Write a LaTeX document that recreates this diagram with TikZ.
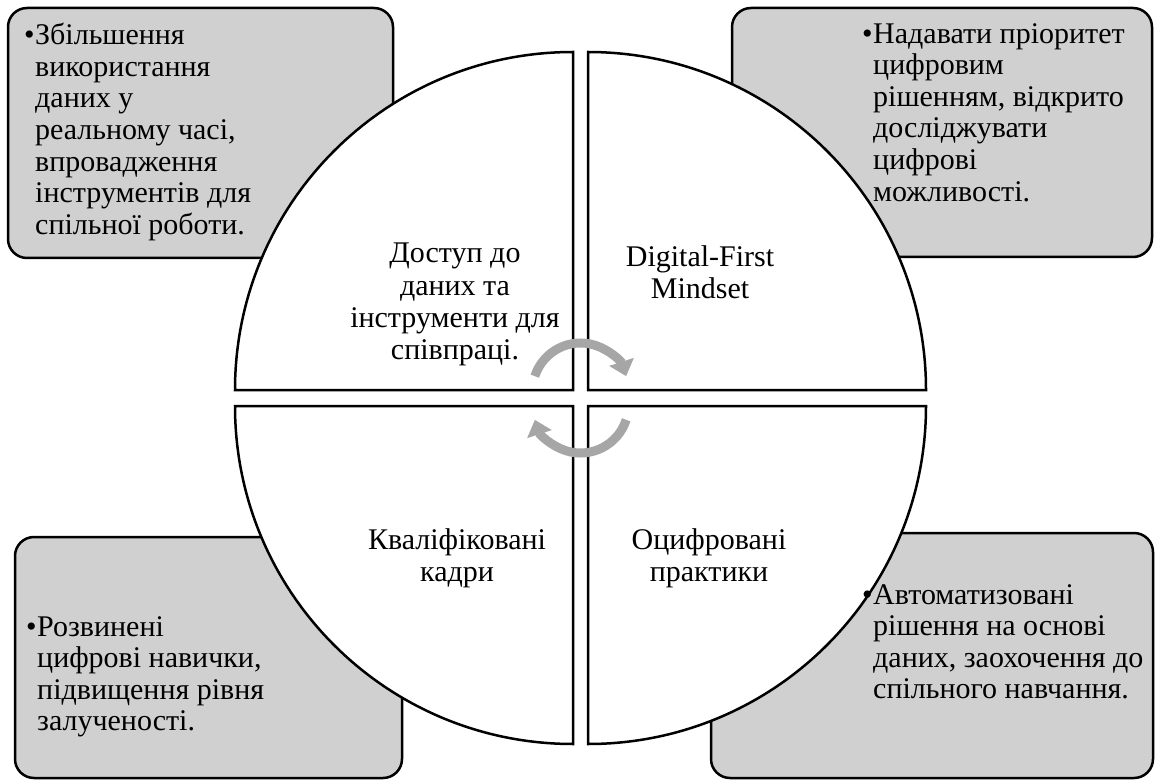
\documentclass[tikz,border=0pt]{standalone}
\usepackage{fontspec}
\setmainfont{Liberation Serif}
\usetikzlibrary{arrows.meta}
\definecolor{boxgray}{RGB}{208,208,208}
\definecolor{arrowgray}{RGB}{166,166,166}
\def\R{338}

\begin{document}
\begin{tikzpicture}[x=1pt, y=-1pt,
		cornerbox/.style={draw=black, line width=2.5pt, fill=boxgray, rounded corners=19pt},
		quarter/.style={draw=black, line width=2.5pt, fill=white},
		cycarrow/.style={draw=arrowgray, line width=9pt, -{Triangle[width=25pt,length=15pt]}},
		listtext/.style={anchor=north west, align=left, inner sep=0pt, font=\fontsize{30}{31.6}\selectfont},
		quadtext/.style={anchor=north, align=center, inner sep=0pt, font=\fontsize{30}{32.2}\selectfont}]
		%%%%% START %%%%%
		\useasboundingbox (0,0) rectangle (1156,783);
		
		% corner boxes
		\draw[cornerbox] (8,8) rectangle (393,258);
		\draw[cornerbox] (732,8) rectangle (1152,257);
		\draw[cornerbox] (15,537) rectangle (402,778);
		\draw[cornerbox] (711,533) rectangle (1153,778);
		
		% quarters of the circle
		\draw[quarter] (573,390) -- ++(0,-\R) arc[start angle=270, end angle=180, radius=\R] -- cycle;
		\draw[quarter] (588,390) -- ++(\R,0) arc[start angle=0, end angle=-90, radius=\R] -- cycle;
		\draw[quarter] (573,406) -- ++(-\R,0) arc[start angle=180, end angle=90, radius=\R] -- cycle;
		\draw[quarter] (588,406) -- ++(0,\R) arc[start angle=90, end angle=0, radius=\R] -- cycle;
		
		% arrows in the middle
		\draw[cycarrow] (580.5,391) ++(198:48) arc[start angle=198, end angle=342, radius=48];
		\draw[cycarrow] (580.5,405) ++(18:48) arc[start angle=18, end angle=162, radius=48];
		
		% texts of the quarters
		\node[quadtext] (access) at (455,243) {Доступ до\\даних та\\інструменти для\\співпраці.};
		\node[quadtext] (mindset) at (700,245) {Digital-First\\Mindset};
		\node[quadtext] (staff) at (457,528) {Кваліфіковані\\кадри};
		\node[quadtext] (practice) at (709,528) {Оцифровані\\практики};
		
		% texts of the boxes
		\node[listtext] (accessnote) at (35,23) {\llap{•\hspace{0.5pt}}Збільшення\\використання\\даних у\\реальному часі,\\впровадження\\інструментів для\\спільної роботи.};
		\node[listtext] (mindsetnote) at (873,23) {\llap{•\hspace{0.5pt}}Надавати пріоритет\\цифровим\\рішенням, відкрито\\досліджувати\\цифрові\\можливості.};
		\node[listtext] (staffnote) at (37,616) {\llap{•\hspace{0.5pt}}Розвинені\\цифрові навички,\\підвищення рівня\\залученості.};
		\node[listtext] (practicenote) at (873,584) {\llap{•\hspace{0.5pt}}Автоматизовані\\рішення на основі\\даних, заохочення до\\спільного навчання.};
		
		%%%%% END %%%%%
	\end{tikzpicture}
\end{document}
